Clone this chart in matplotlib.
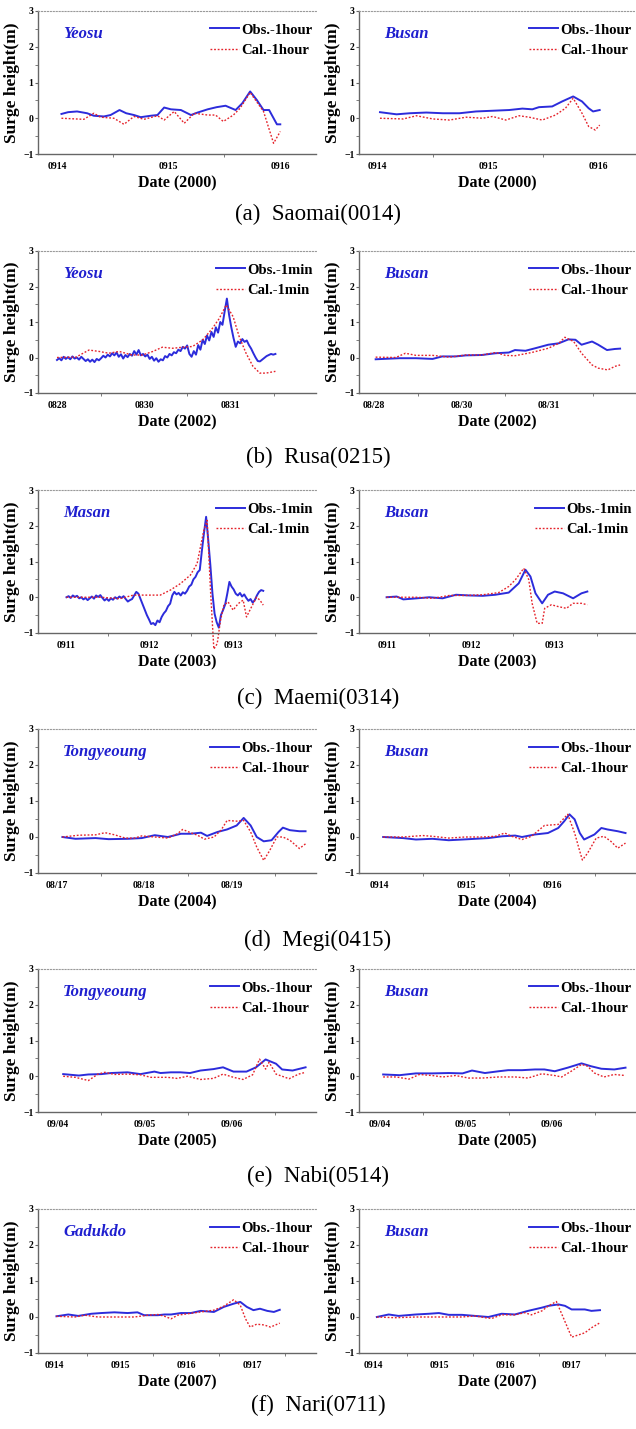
"""
Storm surge comparison panels: observed vs calculated surge heights
for six typhoons (two stations each).
"""

import numpy as np
import matplotlib
matplotlib.use('Agg')
import matplotlib.pyplot as plt

plt.rcParams['font.family'] = ['Liberation Serif', 'DejaVu Serif']

# ---------------------------------------------------------------- data
# x values are in days, tick labels sit in the middle of each day

# (a) Saomai(0014)
A_L_OBS_X = [0.54, 0.60, 0.68, 0.77, 0.83, 0.92, 0.98, 1.06, 1.12, 1.19, 1.25, 1.34, 1.40, 1.46, 1.52,
             1.61, 1.70, 1.76, 1.85, 1.93, 2.01, 2.10, 2.16, 2.23, 2.29, 2.35, 2.40, 2.47, 2.50]
A_L_OBS_Y = [0.12, 0.17, 0.19, 0.14, 0.07, 0.05, 0.09, 0.23, 0.14, 0.09, 0.03, 0.07, 0.09, 0.30, 0.25,
             0.23, 0.09, 0.16, 0.25, 0.31, 0.35, 0.23, 0.42, 0.75, 0.51, 0.23, 0.23, -0.17, -0.17]
A_L_CAL_X = [0.54, 0.74, 0.83, 0.89, 1.01, 1.10, 1.19, 1.28, 1.40, 1.46, 1.55, 1.64, 1.73, 1.85, 1.92,
             1.99, 2.08, 2.14, 2.23, 2.35, 2.44, 2.50]
A_L_CAL_Y = [0.0, -0.03, 0.14, 0.03, 0.0, -0.17, 0.05, -0.03, 0.07, -0.05, 0.19, -0.14, 0.14, 0.09, 0.09,
             -0.09, 0.09, 0.28, 0.72, 0.19, -0.70, -0.37]
A_R_OBS_X = [0.52, 0.67, 0.79, 0.94, 1.09, 1.24, 1.39, 1.54, 1.69, 1.81, 1.90, 1.96, 2.08, 2.17, 2.27,
             2.35, 2.41, 2.45, 2.51]
A_R_OBS_Y = [0.17, 0.11, 0.14, 0.16, 0.14, 0.14, 0.19, 0.21, 0.23, 0.27, 0.25, 0.31, 0.33, 0.47, 0.61,
             0.47, 0.28, 0.19, 0.23]
A_R_CAL_X = [0.52, 0.73, 0.85, 1.00, 1.15, 1.30, 1.45, 1.54, 1.66, 1.78, 1.87, 1.99, 2.11, 2.20, 2.27,
             2.35, 2.41, 2.47, 2.51]
A_R_CAL_Y = [0.0, -0.02, 0.07, -0.02, -0.05, 0.03, 0.0, 0.05, -0.05, 0.07, 0.03, -0.05, 0.09, 0.28, 0.56,
             0.14, -0.23, -0.33, -0.19]

# (b) Rusa(0215) - left obs is 1-min data
B_L_OBS_SPAN = (0.49, 3.02)
B_L_OBS_Y = [-0.07, -0.02, -0.08, 0.02, -0.04, 0.01, -0.05, 0.03, -0.03, 0.00,
             -0.06, 0.02, -0.04, -0.10, -0.05, -0.12, -0.06, -0.13, -0.04, -0.08,
             -0.02, 0.05, 0.00, 0.08, 0.03, 0.12, 0.06, 0.14, 0.02, 0.09,
             -0.03, 0.07, 0.01, 0.10, 0.05, 0.18, 0.08, 0.21, 0.06, 0.10,
             0.03, 0.08, -0.04, 0.02, -0.09, -0.02, -0.12, -0.05, -0.08, 0.04,
             0.00, 0.10, 0.06, 0.15, 0.12, 0.22, 0.18, 0.30, 0.25,
             0.34, 0.10, 0.02, 0.18, 0.08, 0.35, 0.22, 0.50, 0.38, 0.62,
             0.48, 0.72, 0.58, 0.85, 0.70, 1.00, 0.92, 1.30, 1.66,
             1.20, 0.85, 0.55, 0.30, 0.45, 0.40, 0.52, 0.44, 0.48, 0.35,
             0.25, 0.12, 0.00, -0.10, -0.11, -0.06, -0.01, 0.04, 0.07, 0.10, 0.08, 0.10]
B_L_CAL_X = [0.49, 0.71, 0.86, 0.98, 1.09, 1.21, 1.36, 1.48, 1.60, 1.71, 1.83, 1.95, 2.06, 2.18, 2.29,
             2.37, 2.45, 2.53, 2.60, 2.68, 2.76, 2.84, 2.91, 3.02]
B_L_CAL_Y = [0.0, 0.01, 0.21, 0.17, 0.12, 0.17, 0.07, 0.07, 0.17, 0.29, 0.26, 0.29, 0.31, 0.50, 0.82,
             1.10, 1.48, 1.15, 0.59, 0.12, -0.25, -0.44, -0.44, -0.39]
B_R_OBS_X = [0.52, 0.79, 0.98, 1.17, 1.28, 1.43, 1.55, 1.73, 1.89, 2.04, 2.11, 2.23, 2.34, 2.49, 2.61,
             2.72, 2.80, 2.87, 2.99, 3.06, 3.16, 3.25, 3.31]
B_R_OBS_Y = [-0.05, -0.02, -0.02, -0.04, 0.03, 0.03, 0.06, 0.07, 0.12, 0.14, 0.21, 0.19, 0.26, 0.36, 0.40,
             0.51, 0.50, 0.36, 0.45, 0.36, 0.21, 0.24, 0.25]
B_R_CAL_X = [0.52, 0.75, 0.86, 0.98, 1.17, 1.36, 1.55, 1.73, 1.89, 2.00, 2.11, 2.30, 2.49, 2.61, 2.68,
             2.78, 2.87, 2.99, 3.06, 3.17, 3.25, 3.31]
B_R_CAL_Y = [0.01, 0.0, 0.12, 0.06, 0.06, 0.01, 0.07, 0.07, 0.14, 0.06, 0.05, 0.14, 0.26, 0.40, 0.57,
             0.45, 0.12, -0.21, -0.30, -0.35, -0.25, -0.21]

# (c) Maemi(0314) - left obs is 1-min data
C_L_OBS_SPAN = (0.51, 2.86)
C_L_OBS_Y = [0.00, 0.03, -0.02, 0.05, 0.01, 0.04, -0.03, 0.00, -0.06, -0.02,
             -0.08, -0.03, 0.02, -0.04, 0.05, 0.01, 0.06, -0.02, -0.09, -0.04,
             -0.10, -0.03, -0.07, 0.00, -0.04, 0.02, -0.02, 0.03, -0.05, -0.12, -0.08, -0.05,
             0.05, 0.15, 0.10, -0.05, -0.20, -0.35, -0.50, -0.62, -0.75,
             -0.72, -0.78, -0.65, -0.70, -0.55, -0.45, -0.38, -0.25, -0.18, 0.05,
             0.15, 0.08, 0.12, 0.05, 0.14, 0.10, 0.18, 0.30,
             0.35, 0.50, 0.57, 0.70, 0.76, 1.30, 1.80, 2.25,
             1.60, 0.90, 0.10, -0.46, -0.70, -0.85, -0.50, -0.36, -0.20, 0.10, 0.43,
             0.30, 0.22, 0.10, 0.05, 0.12, 0.02, 0.08, -0.02, -0.10, -0.05, -0.15, -0.08,
             0.05, 0.15, 0.20, 0.18]
C_L_CAL_X = [0.51, 0.92, 1.15, 1.31, 1.51, 1.63, 1.75, 1.87, 1.99, 2.07, 2.15, 2.19, 2.23, 2.27, 2.31,
             2.35, 2.39, 2.44, 2.50, 2.56, 2.62, 2.66, 2.72, 2.78, 2.82, 2.86]
C_L_CAL_Y = [0.0, 0.0, -0.04, 0.06, 0.06, 0.06, 0.20, 0.38, 0.62, 0.94, 1.87, 2.15, 0.20, -1.45, -1.30,
             -0.64, -0.22, -0.13, -0.36, -0.18, -0.08, -0.55, -0.27, 0.0, -0.08, -0.22]
C_R_OBS_X = [0.49, 0.61, 0.69, 0.85, 1.00, 1.16, 1.32, 1.48, 1.64, 1.79, 1.95, 2.07, 2.15, 2.21, 2.27,
             2.35, 2.42, 2.50, 2.60, 2.72, 2.82, 2.89]
C_R_OBS_Y = [0.0, 0.02, -0.06, -0.03, 0.0, -0.03, 0.07, 0.05, 0.04, 0.07, 0.13, 0.39, 0.77, 0.58, 0.11,
             -0.17, 0.07, 0.16, 0.11, -0.03, 0.11, 0.16]
C_R_CAL_X = [0.49, 0.85, 1.04, 1.24, 1.44, 1.64, 1.83, 1.95, 2.03, 2.13, 2.19, 2.23, 2.29, 2.35, 2.38,
             2.46, 2.54, 2.64, 2.72, 2.82, 2.89]
C_R_CAL_Y = [0.0, 0.0, -0.03, 0.05, 0.05, 0.07, 0.13, 0.30, 0.49, 0.81, 0.49, -0.17, -0.73, -0.73, -0.31,
             -0.21, -0.26, -0.31, -0.17, -0.17, -0.21]

# (d) Megi(0415)
D_L_OBS_X = [0.56, 0.71, 0.94, 1.09, 1.31, 1.47, 1.62, 1.77, 1.92, 2.03, 2.15, 2.22, 2.34, 2.45, 2.56,
             2.64, 2.72, 2.79, 2.87, 2.96, 3.04, 3.09, 3.17, 3.28, 3.35]
D_L_OBS_Y = [0.0, -0.05, -0.03, -0.06, -0.05, -0.03, 0.05, 0.0, 0.09, 0.09, 0.12, 0.03, 0.14, 0.21, 0.32,
             0.53, 0.32, 0.0, -0.12, -0.09, 0.14, 0.26, 0.19, 0.16, 0.16]
D_L_CAL_X = [0.56, 0.75, 0.94, 1.05, 1.16, 1.28, 1.39, 1.47, 1.62, 1.77, 1.88, 1.94, 2.03, 2.11, 2.19,
             2.30, 2.38, 2.45, 2.56, 2.64, 2.72, 2.79, 2.87, 2.94, 3.02, 3.09, 3.17, 3.28, 3.35]
D_L_CAL_Y = [0.0, 0.05, 0.06, 0.12, 0.06, -0.03, -0.03, 0.03, 0.0, -0.03, 0.09, 0.21, 0.12, 0.05, -0.06,
             0.0, 0.19, 0.46, 0.44, 0.46, 0.14, -0.28, -0.65, -0.37, 0.0, 0.0, -0.09, -0.32, -0.19]
D_R_OBS_X = [0.54, 0.77, 0.92, 1.11, 1.30, 1.46, 1.61, 1.76, 1.92, 2.07, 2.15, 2.30, 2.45, 2.57, 2.64,
             2.70, 2.76, 2.82, 2.87, 2.99, 3.07, 3.14, 3.26, 3.35]
D_R_OBS_Y = [0.0, -0.03, -0.07, -0.05, -0.09, -0.07, -0.05, -0.03, 0.02, 0.04, 0.0, 0.07, 0.11, 0.25, 0.44,
             0.63, 0.49, 0.11, -0.07, 0.07, 0.25, 0.21, 0.16, 0.11]
D_R_CAL_X = [0.54, 0.77, 1.00, 1.11, 1.30, 1.49, 1.69, 1.84, 1.95, 2.03, 2.15, 2.26, 2.41, 2.57, 2.68,
             2.76, 2.82, 2.85, 2.91, 3.01, 3.10, 3.18, 3.26, 3.35]
D_R_CAL_Y = [0.0, 0.0, 0.04, 0.02, -0.03, 0.0, 0.0, 0.02, 0.11, 0.02, -0.07, 0.02, 0.32, 0.35, 0.63,
             0.11, -0.40, -0.64, -0.45, -0.03, 0.02, -0.12, -0.31, -0.17]

# (e) Nabi(0514)
E_L_OBS_X = [0.56, 0.74, 0.85, 1.00, 1.11, 1.30, 1.45, 1.61, 1.68, 1.80, 1.91, 2.02, 2.14, 2.29, 2.40,
             2.52, 2.67, 2.78, 2.89, 3.01, 3.08, 3.20, 3.35]
E_L_OBS_Y = [0.06, 0.02, 0.05, 0.06, 0.09, 0.11, 0.06, 0.13, 0.09, 0.11, 0.11, 0.09, 0.16, 0.20, 0.25,
             0.13, 0.13, 0.25, 0.47, 0.35, 0.19, 0.16, 0.25]
E_L_CAL_X = [0.56, 0.70, 0.85, 0.96, 1.04, 1.15, 1.30, 1.45, 1.57, 1.76, 1.87, 1.99, 2.14, 2.29, 2.40,
             2.52, 2.63, 2.74, 2.82, 2.89, 2.93, 3.01, 3.08, 3.16, 3.27, 3.35]
E_L_CAL_Y = [0.0, -0.03, -0.12, 0.06, 0.11, 0.05, 0.06, 0.04, -0.03, -0.03, -0.06, 0.0, -0.09, -0.06, 0.06,
             -0.03, -0.09, 0.04, 0.48, 0.20, 0.39, 0.06, 0.0, -0.07, 0.06, 0.11]
E_R_OBS_X = [0.54, 0.73, 0.92, 1.11, 1.30, 1.46, 1.57, 1.72, 1.88, 1.99, 2.15, 2.30, 2.41, 2.53, 2.68,
             2.84, 2.95, 3.07, 3.22, 3.35]
E_R_OBS_Y = [0.05, 0.03, 0.08, 0.08, 0.09, 0.08, 0.16, 0.09, 0.14, 0.17, 0.17, 0.19, 0.19, 0.14, 0.24,
             0.36, 0.28, 0.21, 0.19, 0.24]
E_R_CAL_X = [0.54, 0.69, 0.84, 0.96, 1.11, 1.23, 1.38, 1.53, 1.69, 1.88, 2.07, 2.22, 2.38, 2.53, 2.61,
             2.72, 2.84, 2.91, 2.99, 3.10, 3.22, 3.35]
E_R_CAL_Y = [-0.02, -0.02, -0.08, 0.05, 0.02, -0.02, 0.02, -0.05, -0.05, -0.02, -0.02, -0.05, 0.07, 0.02, -0.02,
             0.14, 0.33, 0.28, 0.09, -0.02, 0.05, 0.02]

# (f) Nari(0711)
F_L_OBS_X = [0.53, 0.71, 0.86, 1.06, 1.21, 1.41, 1.61, 1.76, 1.86, 2.07, 2.17, 2.27, 2.42, 2.57, 2.72,
             2.92, 3.07, 3.22, 3.32, 3.42, 3.52, 3.62, 3.73, 3.83, 3.92]
F_L_OBS_Y = [0.02, 0.07, 0.03, 0.09, 0.11, 0.13, 0.11, 0.13, 0.05, 0.05, 0.07, 0.07, 0.11, 0.11, 0.17,
             0.14, 0.28, 0.37, 0.42, 0.28, 0.19, 0.23, 0.17, 0.14, 0.20]
F_L_CAL_X = [0.53, 0.81, 0.96, 1.16, 1.46, 1.71, 1.92, 2.07, 2.17, 2.27, 2.37, 2.52, 2.72, 2.92, 3.07,
             3.22, 3.32, 3.40, 3.47, 3.57, 3.68, 3.78, 3.92]
F_L_CAL_Y = [0.02, 0.0, 0.05, 0.0, 0.0, 0.0, 0.05, 0.07, 0.02, -0.05, 0.05, 0.09, 0.14, 0.19, 0.30,
             0.48, 0.33, -0.05, -0.28, -0.20, -0.22, -0.28, -0.17]
F_R_OBS_X = [0.55, 0.73, 0.88, 1.14, 1.34, 1.49, 1.64, 1.84, 2.04, 2.24, 2.44, 2.64, 2.84, 3.05, 3.15,
             3.30, 3.40, 3.50, 3.60, 3.70, 3.80, 3.93]
F_R_OBS_Y = [0.0, 0.07, 0.03, 0.07, 0.09, 0.11, 0.06, 0.06, 0.03, 0.0, 0.09, 0.07, 0.17, 0.26, 0.31,
             0.35, 0.31, 0.21, 0.21, 0.21, 0.17, 0.19]
F_R_CAL_X = [0.55, 0.83, 1.14, 1.39, 1.64, 1.84, 2.04, 2.19, 2.29, 2.44, 2.64, 2.79, 2.89, 3.05, 3.15,
             3.27, 3.37, 3.50, 3.60, 3.70, 3.80, 3.93]
F_R_CAL_Y = [0.0, -0.02, 0.0, 0.0, 0.0, 0.0, 0.03, -0.02, -0.04, 0.06, 0.06, 0.12, 0.06, 0.17, 0.31,
             0.43, 0.0, -0.56, -0.50, -0.44, -0.30, -0.16]

# labels
CAPTIONS = ['(a)  Saomai(0014)', '(b)  Rusa(0215)', '(c)  Maemi(0314)',
            '(d)  Megi(0415)', '(e)  Nabi(0514)', '(f)  Nari(0711)']
YEARS = ['2000', '2002', '2003', '2004', '2005', '2007']
STATIONS_LEFT = ['Yeosu', 'Yeosu', 'Masan', 'Tongyeoung', 'Tongyeoung', 'Gadukdo']
STATIONS_RIGHT = ['Busan'] * 6
RES_LEFT = ['1hour', '1min', '1min', '1hour', '1hour', '1hour']
RES_RIGHT = ['1hour', '1hour', '1min', '1hour', '1hour', '1hour']
XTICKS_LEFT = [['0914', '0915', '0916'], ['0828', '0830', '0831'], ['0911', '0912', '0913'],
               ['08/17', '08/18', '08/19'], ['09/04', '09/05', '09/06'], ['0914', '0915', '0916', '0917']]
XTICKS_RIGHT = [['0914', '0915', '0916'], ['08/28', '08/30', '08/31'], ['0911', '0912', '0913'],
                ['0914', '0915', '0916'], ['09/04', '09/05', '09/06'], ['0914', '0915', '0916', '0917']]

# ---------------------------------------------------------------- style
OBS_COLOR = '#2c2cdb'
CAL_COLOR = '#e5232b'
STATION_COLOR = '#1f1fcf'
AXIS_COLOR = '#666666'

W, H = 636, 1429
ROWS = [(11, 154), (251, 393), (490, 633), (729, 873), (969, 1112), (1209, 1353)]
CAPTION_Y = [214, 457, 698, 940, 1176, 1405]
COLS = [(38, 316), (359, 635)]
XLIMS_LEFT = [(0.33, 2.82), (0.27, 3.49), (0.17, 3.49), (0.28, 3.47), (0.27, 3.47), (0.25, 4.47)]
XLIMS_RIGHT = [(0.33, 2.83), (0.33, 3.48), (0.16, 3.46), (0.26, 3.46), (0.26, 3.46), (0.28, 4.46)]


def draw_panel(fig, rect, obs, cal, xlim, ticklabels, year, station, res, cal_clip=True):
    ax = fig.add_axes(rect)
    ax.plot(obs[0], obs[1], color=OBS_COLOR, lw=1.4, label='Obs.-' + res)
    ax.plot(cal[0], cal[1], color=CAL_COLOR, lw=1.0, ls=(0, (1.3, 1.3)),
            label='Cal.-' + res, clip_on=cal_clip)
    ax.set_xlim(*xlim)
    ax.set_ylim(-1, 3)

    # labels in the middle of each day, tick marks on the day boundaries
    ax.set_xticks([k + 0.5 for k in range(len(ticklabels))])
    ax.set_xticklabels(ticklabels)
    ax.set_xticks(np.arange(1, int(xlim[1]) + 1), minor=True)
    ax.set_yticks([-1, 0, 1, 2, 3])
    ax.set_yticks(np.arange(-1, 3.01, 0.5), minor=True)
    ax.tick_params(axis='x', which='major', length=0, pad=6, labelsize=7)
    ax.tick_params(axis='x', which='minor', length=2.5, direction='out', color=AXIS_COLOR)
    ax.tick_params(axis='y', which='both', length=2.2, direction='out', color=AXIS_COLOR,
                   pad=1, labelsize=7)
    for lab in ax.get_xticklabels() + ax.get_yticklabels():
        lab.set_fontweight('bold')

    ax.spines['right'].set_visible(False)
    ax.spines['top'].set_linestyle(':')
    ax.spines['top'].set_color('#9a9a9a')
    for side in ['left', 'bottom']:
        ax.spines[side].set_color(AXIS_COLOR)
        ax.spines[side].set_linewidth(1.0)

    ax.set_xlabel('Date (%s)' % year, fontsize=11.5, fontweight='bold', labelpad=3)
    ax.set_ylabel('Surge height(m)', fontsize=12.5, fontweight='bold', labelpad=2)

    ax.text(0.09, 0.84, station, transform=ax.transAxes, color=STATION_COLOR,
            fontsize=12, fontweight='bold', style='italic', va='center', ha='left')
    ax.legend(loc='upper right', bbox_to_anchor=(1.033, 1.0), frameon=False,
              prop={'weight': 'bold', 'size': 10.5},
              handlelength=2.0, handletextpad=0.15, labelspacing=0.5,
              borderaxespad=0.1, borderpad=0.75)
    return ax


def rect_of(col, row):
    x0, x1 = COLS[col]
    top, bottom = ROWS[row]
    return [x0 / W, 1 - bottom / H, (x1 - x0) / W, (bottom - top) / H]


if __name__ == "__main__":
    fig = plt.figure(figsize=(W / 100, H / 100), dpi=100)

    b_obs_x = np.linspace(B_L_OBS_SPAN[0], B_L_OBS_SPAN[1], len(B_L_OBS_Y))
    c_obs_x = np.linspace(C_L_OBS_SPAN[0], C_L_OBS_SPAN[1], len(C_L_OBS_Y))

    left_series = [
        ((A_L_OBS_X, A_L_OBS_Y), (A_L_CAL_X, A_L_CAL_Y)),
        ((b_obs_x, B_L_OBS_Y), (B_L_CAL_X, B_L_CAL_Y)),
        ((c_obs_x, C_L_OBS_Y), (C_L_CAL_X, C_L_CAL_Y)),
        ((D_L_OBS_X, D_L_OBS_Y), (D_L_CAL_X, D_L_CAL_Y)),
        ((E_L_OBS_X, E_L_OBS_Y), (E_L_CAL_X, E_L_CAL_Y)),
        ((F_L_OBS_X, F_L_OBS_Y), (F_L_CAL_X, F_L_CAL_Y)),
    ]
    right_series = [
        ((A_R_OBS_X, A_R_OBS_Y), (A_R_CAL_X, A_R_CAL_Y)),
        ((B_R_OBS_X, B_R_OBS_Y), (B_R_CAL_X, B_R_CAL_Y)),
        ((C_R_OBS_X, C_R_OBS_Y), (C_R_CAL_X, C_R_CAL_Y)),
        ((D_R_OBS_X, D_R_OBS_Y), (D_R_CAL_X, D_R_CAL_Y)),
        ((E_R_OBS_X, E_R_OBS_Y), (E_R_CAL_X, E_R_CAL_Y)),
        ((F_R_OBS_X, F_R_OBS_Y), (F_R_CAL_X, F_R_CAL_Y)),
    ]

    for r in range(6):
        obs, cal = left_series[r]
        draw_panel(fig, rect_of(0, r), obs, cal, XLIMS_LEFT[r], XTICKS_LEFT[r],
                   YEARS[r], STATIONS_LEFT[r], RES_LEFT[r], cal_clip=(r != 2))
        obs, cal = right_series[r]
        draw_panel(fig, rect_of(1, r), obs, cal, XLIMS_RIGHT[r], XTICKS_RIGHT[r],
                   YEARS[r], STATIONS_RIGHT[r], RES_RIGHT[r])
        fig.text(0.5, 1 - CAPTION_Y[r] / H, CAPTIONS[r], ha='center', va='center', fontsize=16.5)

    fig.savefig('out.png', dpi=100, facecolor='white')
    plt.close(fig)
